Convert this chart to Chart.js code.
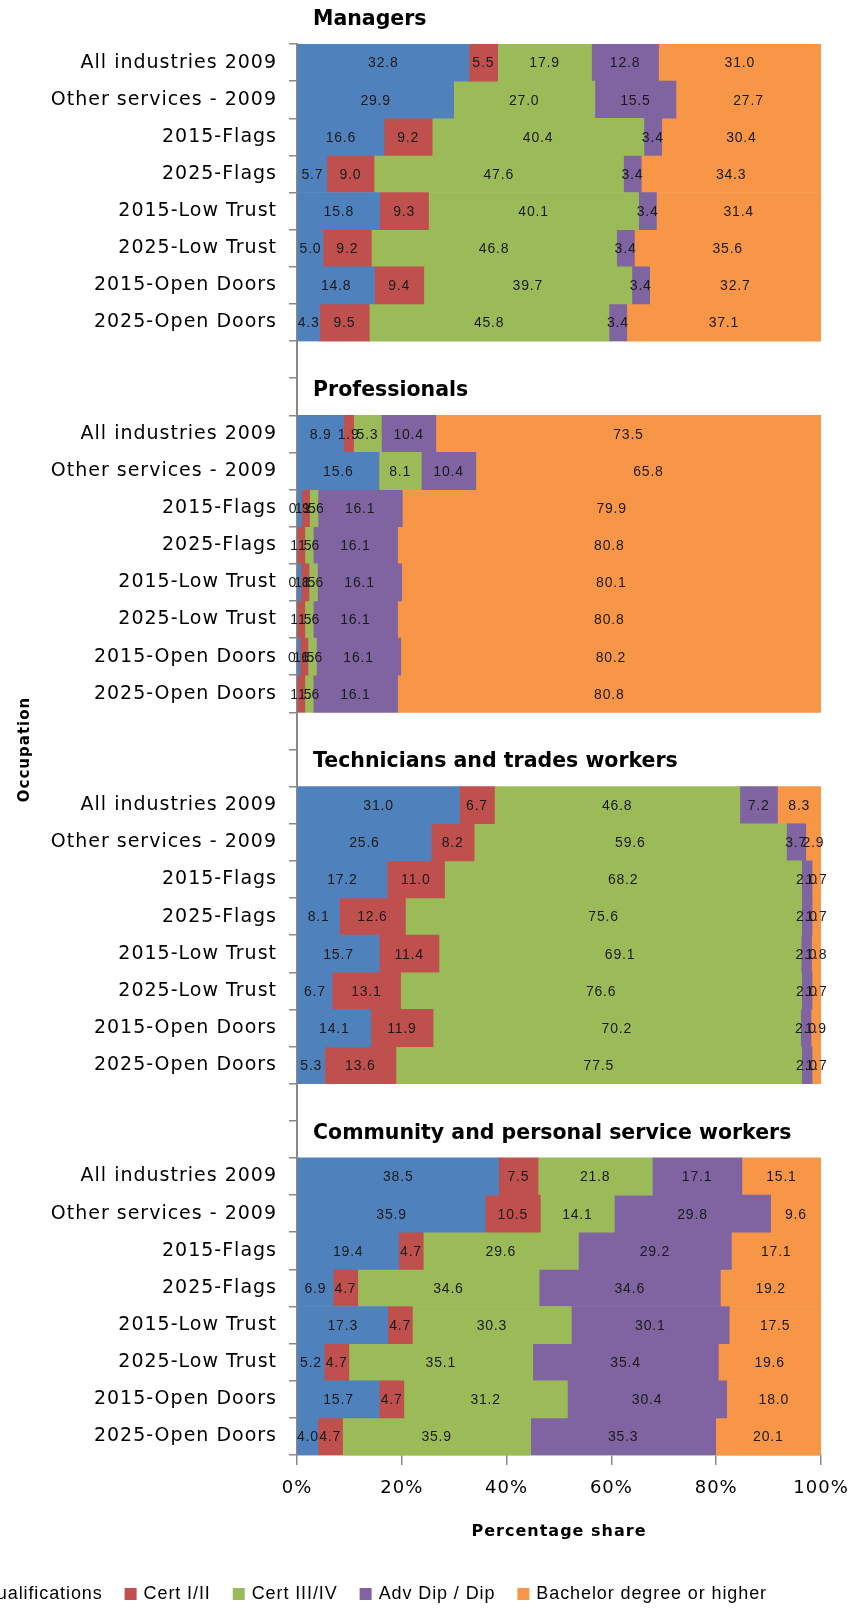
<!DOCTYPE html>
<html>
<head>
<meta charset="utf-8">
<script src="https://cdn.jsdelivr.net/npm/chart.js@4.4.1/dist/chart.umd.min.js"></script>
<style>
    html, body { margin: 0; padding: 0; background: #fff; overflow: hidden; }
    #contenedor { position: relative; width: 856px; height: 1608px; }
</style>
</head>
<body>
<div id="contenedor">
    <canvas id="ocupacionChart" width="856" height="1608"></canvas>
</div>
<script>

// grupos de ocupación (títulos en negrita)
const grupos = [
    "Managers",
    "Professionals",
    "Technicians and trades workers",
    "Community and personal service workers"
];

// filas de cada grupo
const escenarios = [
    "All industries 2009",
    "Other services - 2009",
    "2015-Flags",
    "2025-Flags",
    "2015-Low Trust",
    "2025-Low Trust",
    "2015-Open Doors",
    "2025-Open Doors"
];

// series (leyenda)
const series = [
    "No post-school qualifications",
    "Cert I/II",
    "Cert III/IV",
    "Adv Dip / Dip",
    "Bachelor degree or higher"
];

const colores = ["#4F81BD", "#C0504D", "#9BBB59", "#8064A2", "#F79646"];

// valores: 8 filas por grupo, en el orden de los grupos
const sinCalificacion = [
    32.8, 29.9, 16.6, 5.7, 15.8, 5.0, 14.8, 4.3,
    8.9, 15.6, 0.9, 0.0, 0.8, 0.0, 0.6, 0.0,
    31.0, 25.6, 17.2, 8.1, 15.7, 6.7, 14.1, 5.3,
    38.5, 35.9, 19.4, 6.9, 17.3, 5.2, 15.7, 4.0
];

const certI_II = [
    5.5, 0.0, 9.2, 9.0, 9.3, 9.2, 9.4, 9.5,
    1.9, 0.0, 1.5, 1.5, 1.5, 1.5, 1.5, 1.5,
    6.7, 8.2, 11.0, 12.6, 11.4, 13.1, 11.9, 13.6,
    7.5, 10.5, 4.7, 4.7, 4.7, 4.7, 4.7, 4.7
];

const certIII_IV = [
    17.9, 27.0, 40.4, 47.6, 40.1, 46.8, 39.7, 45.8,
    5.3, 8.1, 1.6, 1.6, 1.6, 1.6, 1.6, 1.6,
    46.8, 59.6, 68.2, 75.6, 69.1, 76.6, 70.2, 77.5,
    21.8, 14.1, 29.6, 34.6, 30.3, 35.1, 31.2, 35.9
];

const advDip = [
    12.8, 15.5, 3.4, 3.4, 3.4, 3.4, 3.4, 3.4,
    10.4, 10.4, 16.1, 16.1, 16.1, 16.1, 16.1, 16.1,
    7.2, 3.7, 2.0, 2.0, 2.0, 2.0, 2.0, 2.0,
    17.1, 29.8, 29.2, 34.6, 30.1, 35.4, 30.4, 35.3
];

const bachelor = [
    31.0, 27.7, 30.4, 34.3, 31.4, 35.6, 32.7, 37.1,
    73.5, 65.8, 79.9, 80.8, 80.1, 80.8, 80.2, 80.8,
    8.3, 2.9, 1.7, 1.7, 1.8, 1.7, 1.9, 1.7,
    15.1, 9.6, 17.1, 19.2, 17.5, 19.6, 18.0, 20.1
];

// eje X
const ticksX = [0, 20, 40, 60, 80, 100];

const valoresSeries = [sinCalificacion, certI_II, certIII_IV, advDip, bachelor];

// armar filas: dos filas vacías entre grupos
const etiquetas = [];
const filaDato = [];
const primeraFila = [];

grupos.forEach((g, gi) => {
    if (gi > 0) {
        etiquetas.push("", "");
        filaDato.push(-1, -1);
    }
    primeraFila.push(etiquetas.length);
    escenarios.forEach((e, ei) => {
        etiquetas.push(e);
        filaDato.push(gi * escenarios.length + ei);
    });
});

// total de cada fila (100% apilado)
const totales = sinCalificacion.map((_, i) =>
    valoresSeries.reduce((s, arr) => s + arr[i], 0)
);

const datasets = series.map((nombre, si) => ({
    label: nombre,
    data: filaDato.map(i => i < 0 ? null : valoresSeries[si][i] / totales[i] * 100),
    crudos: filaDato.map(i => i < 0 ? null : valoresSeries[si][i]),
    backgroundColor: colores[si],
    borderWidth: 0,
    categoryPercentage: 1.0,
    barPercentage: 1.0
}));

// rótulos, títulos de grupo y leyenda
const extras = {
    id: "extras",

    beforeDraw(chart) {
        chart.ctx.letterSpacing = "1px";
    },

    beforeDatasetsDraw(chart) {
        chart.ctx.letterSpacing = "0px";
    },

    afterDatasetsDraw(chart) {
        const ctx = chart.ctx;
        ctx.save();
        ctx.font = '14px "Liberation Sans"';
        ctx.letterSpacing = "0.8px";
        ctx.fillStyle = "#1a1a1a";
        ctx.textAlign = "center";
        ctx.textBaseline = "middle";
        chart.data.datasets.forEach((ds, di) => {
            chart.getDatasetMeta(di).data.forEach((bar, i) => {
                const v = ds.crudos[i];
                if (v === null || v === 0) return;
                ctx.fillText(v.toFixed(1), (bar.x + bar.base) / 2, bar.y + 1);
            });
        });
        ctx.restore();
    },

    afterDraw(chart) {
        const ctx = chart.ctx;
        const y = chart.scales.y;
        const paso = y.getPixelForValue(1) - y.getPixelForValue(0);

        ctx.save();
        ctx.letterSpacing = "0px";

        // títulos de grupo
        ctx.font = 'bold 20.5px "DejaVu Sans"';
        ctx.fillStyle = "#000";
        ctx.textAlign = "left";
        ctx.textBaseline = "middle";
        grupos.forEach((g, gi) => {
            const cy = y.getPixelForValue(primeraFila[gi]) - paso - 6;
            ctx.fillText(g, chart.chartArea.left + 16, cy);
        });

        // leyenda (recortada a la izquierda como el original)
        ctx.font = '18px "Liberation Sans"';
        ctx.letterSpacing = "0.9px";
        ctx.textBaseline = "middle";
        const caja = 12, hueco = 7, sep = 22, yLeyenda = 1594;
        let x = 767;
        for (let i = series.length - 1; i >= 0; i--) {
            const w = ctx.measureText(series[i]).width;
            x -= w;
            ctx.fillStyle = "#000";
            ctx.fillText(series[i], x, yLeyenda);
            x -= hueco + caja;
            ctx.fillStyle = colores[i];
            ctx.fillRect(x, yLeyenda - caja / 2, caja, caja);
            x -= sep;
        }
        ctx.restore();
    }
};

const ctx = document.getElementById("ocupacionChart").getContext("2d");

new Chart(ctx, {

    type: "bar",

    data: {
        labels: etiquetas,
        datasets: datasets
    },

    options: {

        indexAxis: "y",
        responsive: false,
        animation: false,
        devicePixelRatio: 1,

        layout: {
            padding: { top: 44, right: 35, bottom: 58, left: 0 }
        },

        plugins: {
            legend: { display: false },
            tooltip: { enabled: false }
        },

        scales: {

            x: {
                stacked: true,
                min: 0,
                max: 100,
                afterBuildTicks: scale => {
                    scale.ticks = ticksX.map(v => ({ value: v }));
                },
                afterFit: scale => {
                    scale.height = 95;
                    scale.paddingLeft = 0;
                    scale.paddingRight = 0;
                },
                ticks: {
                    callback: v => v + "%",
                    color: "#000",
                    padding: 13,
                    font: { family: "DejaVu Sans", size: 18 }
                },
                grid: {
                    drawOnChartArea: false,
                    drawTicks: true,
                    tickLength: 10,
                    color: "#888",
                    lineWidth: 1.5
                },
                border: { color: "#888", width: 1.5 },
                title: {
                    display: true,
                    text: "Percentage share",
                    color: "#000",
                    font: { family: "DejaVu Sans", size: 16, weight: "bold" },
                    padding: { top: 0, bottom: 9 }
                }
            },

            y: {
                stacked: true,
                afterFit: scale => { scale.width = 297; },
                ticks: {
                    autoSkip: false,
                    color: "#000",
                    padding: 12,
                    font: { family: "DejaVu Sans", size: 19 }
                },
                grid: {
                    offset: true,
                    drawOnChartArea: false,
                    drawTicks: true,
                    tickLength: 8,
                    color: "#888",
                    lineWidth: 1.5
                },
                border: { color: "#888", width: 2 },
                title: {
                    display: true,
                    text: "Occupation",
                    color: "#000",
                    font: { family: "DejaVu Sans", size: 15, weight: "bold" },
                    padding: { top: 16, bottom: 0 }
                }
            }
        }
    },

    plugins: [extras]
});
</script>
</body>
</html>
